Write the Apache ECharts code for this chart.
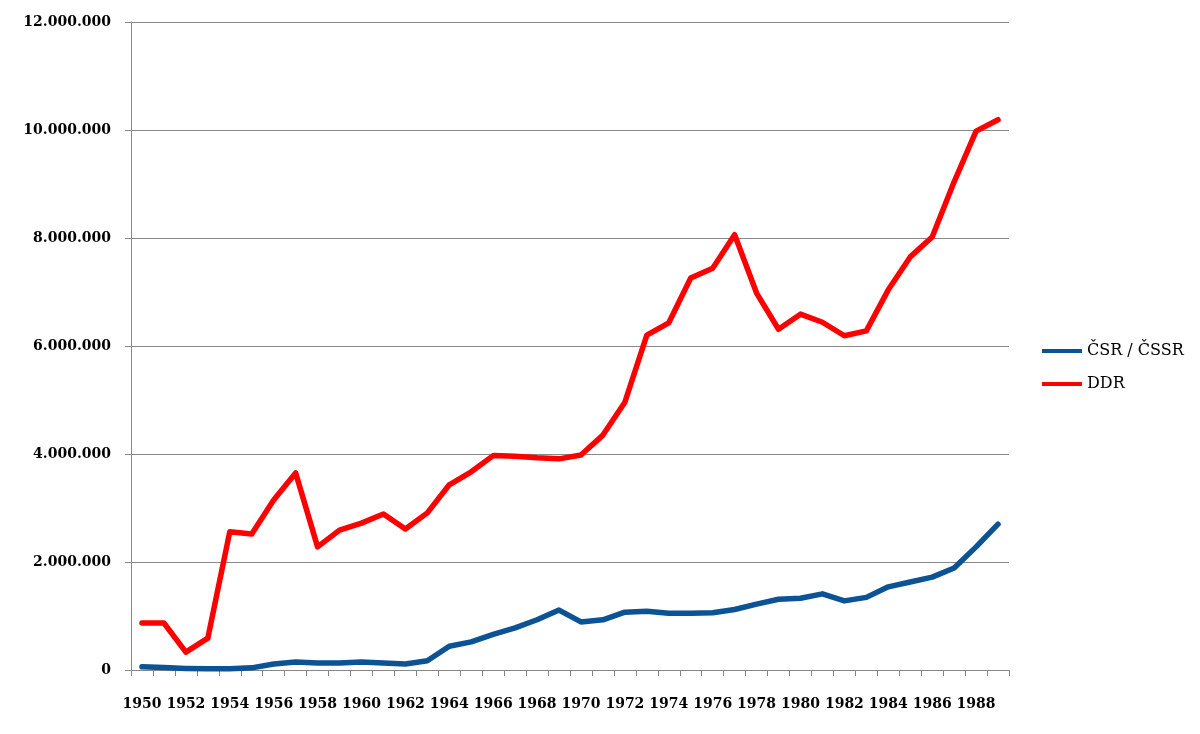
<!DOCTYPE html>
<html>
<head>
<meta charset="utf-8">
<script src="https://cdn.jsdelivr.net/npm/echarts@6/dist/echarts.min.js"></script>
<style>html,body{margin:0;padding:0;background:#fff}#c{width:1200px;height:734px}</style>
</head>
<body>
<div id="c"></div>
<script>
const years = [];
for (let y = 1950; y <= 1989; y++) years.push(String(y));
const csr = [60000,45000,30000,22000,22000,40000,110000,150000,130000,130000,150000,130000,110000,170000,440000,520000,660000,780000,930000,1110000,890000,930000,1070000,1090000,1050000,1050000,1060000,1120000,1220000,1310000,1330000,1410000,1280000,1345000,1540000,1630000,1720000,1890000,2280000,2700000];
const ddr = [870000,870000,330000,590000,2560000,2520000,3150000,3650000,2280000,2590000,2720000,2890000,2610000,2910000,3430000,3670000,3970000,3960000,3930000,3910000,3980000,4350000,4960000,6200000,6430000,7260000,7440000,8060000,6980000,6310000,6590000,6440000,6190000,6280000,7040000,7650000,8020000,9040000,9980000,10190000];
const seriesNames = ['ČSR / ČSSR', 'DDR'];
const FONT = 'DejaVu Serif';
const chart = echarts.init(document.getElementById('c'));
chart.setOption({
  animation: false,
  backgroundColor: '#fff',
  textStyle: { fontFamily: FONT, color: '#000' },
  grid: { left: 131, right: 191, top: 22, bottom: 64 },
  legend: {
    orient: 'vertical', left: 1037, top: 338,
    icon: 'rect', itemWidth: 40, itemHeight: 4, itemGap: 17,
    textStyle: { fontFamily: FONT, fontSize: 16, color: '#000' },
    data: seriesNames
  },
  xAxis: {
    type: 'category', data: years, boundaryGap: true,
    axisLine: { lineStyle: { color: '#888', width: 1 } },
    axisTick: { show: true, interval: 0, length: 6, lineStyle: { color: '#888' } },
    axisLabel: { interval: 1, margin: 27, fontSize: 14, fontWeight: 'bold', color: '#000', fontFamily: FONT },
    splitLine: { show: false }
  },
  yAxis: {
    type: 'value', min: 0, max: 12000000, interval: 2000000,
    axisLine: { show: true, lineStyle: { color: '#888', width: 1 } },
    axisTick: { show: true, length: 6, lineStyle: { color: '#888' } },
    axisLabel: {
      margin: 20, fontSize: 14, fontWeight: 'bold', color: '#000', fontFamily: FONT,
      formatter: v => String(v).replace(/\B(?=(\d{3})+(?!\d))/g, '.')
    },
    splitLine: { show: true, lineStyle: { color: '#888', width: 1 } }
  },
  series: [
    { name: seriesNames[0], type: 'line', data: csr, showSymbol: false, symbol: 'none',
      lineStyle: { color: '#0b5394', width: 5.5, cap: 'round', join: 'round' }, itemStyle: { color: '#0b5394' } },
    { name: seriesNames[1], type: 'line', data: ddr, showSymbol: false, symbol: 'none',
      lineStyle: { color: '#ff0000', width: 5.5, cap: 'round', join: 'round' }, itemStyle: { color: '#ff0000' } }
  ]
});
</script>
</body>
</html>
